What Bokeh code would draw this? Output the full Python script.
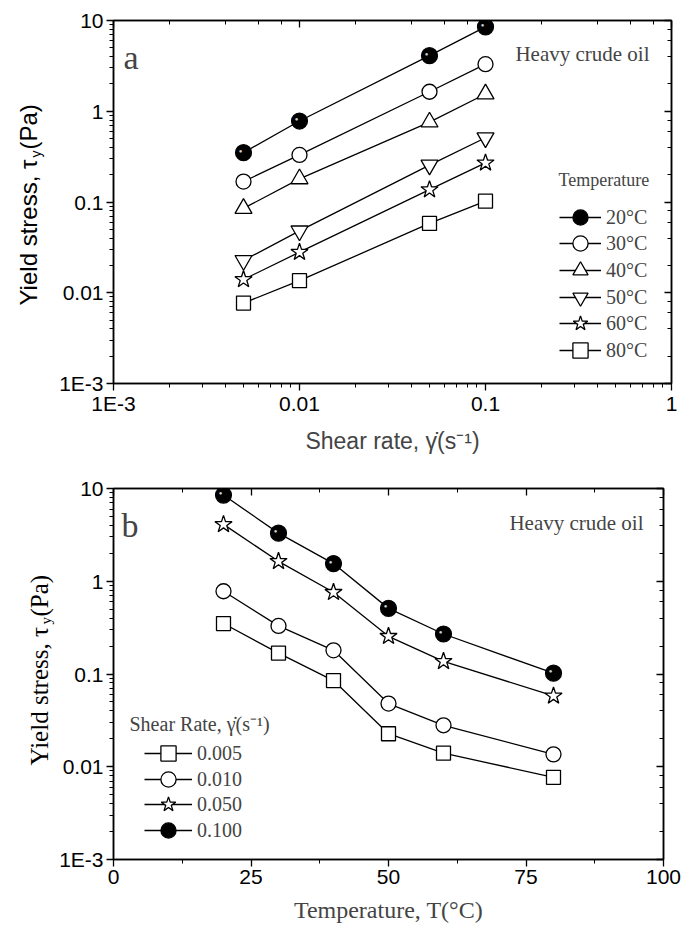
from math import pi
from bokeh.plotting import figure
from bokeh.models import (LogAxis, LinearAxis, Label, Legend, LegendItem,
                          CustomJSTickFormatter, LogTicker, SingleIntervalTicker, Range1d)
from bokeh.layouts import column, row
from bokeh.embed import file_html
from bokeh.resources import INLINE
from bokeh.core.properties import value

# ---------------- data ----------------
shear_rates = [0.005, 0.01, 0.05, 0.1]
temperatures = [20, 30, 40, 50, 60, 80]
stress_20C = [0.35, 0.78, 4.1, 8.5]
stress_30C = [0.168, 0.33, 1.64, 3.3]
stress_40C = [0.085, 0.18, 0.76, 1.55]
stress_50C = [0.0227, 0.048, 0.255, 0.51]
stress_60C = [0.014, 0.028, 0.137, 0.27]
stress_80C = [0.0077, 0.0136, 0.058, 0.102]
temp_labels = ["20°C", "30°C", "40°C", "50°C", "60°C", "80°C"]
shear_labels = ["0.005", "0.010", "0.050", "0.100"]
log_ticks_fmt = """
const e = Math.round(Math.log10(tick));
if (e <= -3) return "1E" + e;
if (e < 0) return Math.pow(10, e).toFixed(-e);
return Math.pow(10, e).toFixed(0);
"""

stress_by_temp = [stress_20C, stress_30C, stress_40C, stress_50C, stress_60C, stress_80C]
temp_markers = ["sphere", "circle", "triangle", "inverted_triangle", "star", "square"]
shear_markers = ["square", "circle", "star", "sphere"]
shear_index = [0, 1, 2, 3]

SANS = "Liberation Sans"
SERIF = "Liberation Serif"
MSIZE = {"sphere": 16, "circle": 15, "triangle": 17, "inverted_triangle": 17,
         "star": 18, "square": 14}
LABEL_W = 56


def style_axis(ax, inward=False, labels=True):
    ax.axis_line_color = "black"
    ax.axis_line_width = 1.5
    ax.major_tick_line_color = "black"
    ax.minor_tick_line_color = "black"
    ax.major_tick_line_width = 1.3
    ax.minor_tick_line_width = 1.0
    if inward:
        ax.major_tick_in, ax.major_tick_out = 7, 0
        ax.minor_tick_in, ax.minor_tick_out = 4, 0
    else:
        ax.major_tick_in, ax.major_tick_out = 0, 7
        ax.minor_tick_in, ax.minor_tick_out = 0, 4
    ax.major_label_text_font = SANS
    ax.major_label_text_font_size = "21px"
    ax.major_label_text_color = "black"
    ax.major_label_standoff = 3
    if not labels:
        ax.formatter = CustomJSTickFormatter(code="return '';")
        ax.major_label_standoff = 0
        ax.major_label_text_font_size = "1px"


def add_series(p, xs, ys, marker):
    r_line = p.line(xs, ys, line_color="black", line_width=1.3)
    if marker == "sphere":
        r_sc = p.scatter(xs, ys, marker="circle", size=MSIZE[marker],
                         fill_color="black", line_color="black", line_width=1.2)
        p.text(xs, ys, text=value("●"), x_offset=-3, y_offset=-2,
               text_font_size="6px", text_color="#d0d0d0",
               text_align="center", text_baseline="middle")
    else:
        r_sc = p.scatter(xs, ys, marker=marker, size=MSIZE[marker],
                         fill_color="white", line_color="black", line_width=1.3)
    return [r_line, r_sc]


def add_legend_rows(p, labels, renderer_sets, x, y_bottoms, glyph_w):
    for lab, rs, yb in zip(labels, renderer_sets, y_bottoms):
        lg = Legend(items=[LegendItem(label=lab, renderers=rs)], location=(x, yb),
                    label_text_font=SERIF, label_text_font_size="20px",
                    glyph_width=glyph_w, glyph_height=38, label_height=20,
                    label_standoff=5, padding=0, margin=0, spacing=0,
                    border_line_color=None, background_fill_alpha=0)
        p.add_layout(lg)


def label_figure(height, frame_bottom, x_center, y_start, font, size, w_main, w_sub, sub_shift):
    f = figure(width=LABEL_W, height=height, x_range=Range1d(0, 1), y_range=Range1d(0, 1),
               output_backend="svg", toolbar_location=None,
               x_axis_location=None, y_axis_location=None,
               min_border_left=0, min_border_right=0, min_border_top=0, min_border_bottom=0,
               border_fill_color="white", background_fill_color="white")
    f.grid.visible = False
    f.outline_line_color = None
    common = dict(x_units="screen", y_units="screen", angle=pi / 2,
                  text_align="left", text_baseline="middle", text_font=font,
                  text_color="black")
    yb = frame_bottom - y_start
    f.add_layout(Label(x=x_center, y=yb, text="Yield stress, τ", text_font_size=f"{size}px", **common))
    f.add_layout(Label(x=x_center + sub_shift, y=yb + w_main, text="y",
                       text_font_size=f"{int(size * 0.62)}px", **common))
    f.add_layout(Label(x=x_center, y=yb + w_main + w_sub, text="(Pa)",
                       text_font_size=f"{size}px", **common))
    return f


# ---------------- panel a ----------------
p1 = figure(frame_width=558, frame_height=363, x_axis_type="log", y_axis_type="log",
            x_range=Range1d(1e-3, 1), y_range=Range1d(1e-3, 10),
            output_backend="svg", toolbar_location=None,
            min_border_left=112 - LABEL_W, min_border_right=20, min_border_top=20,
            min_border_bottom=85,
            background_fill_color="white", border_fill_color="white")
p1.grid.visible = False
p1.outline_line_color = "black"
p1.outline_line_width = 1.5
for ax in p1.xaxis + p1.yaxis:
    style_axis(ax)
    ax.formatter = CustomJSTickFormatter(code=log_ticks_fmt)
p1.xaxis.major_label_standoff = 1
p1.xaxis.axis_label = "Shear rate, γ̇(s⁻¹)"
p1.xaxis.axis_label_text_font = SANS
p1.xaxis.axis_label_text_font_size = "23px"
p1.xaxis.axis_label_text_font_style = "normal"
p1.xaxis.axis_label_standoff = 10
top1 = LogAxis(ticker=LogTicker())
style_axis(top1, inward=True, labels=False)
p1.add_layout(top1, "above")
right1 = LogAxis(ticker=LogTicker())
style_axis(right1, inward=True, labels=False)
p1.add_layout(right1, "right")

sets1 = [add_series(p1, shear_rates, ys, mk) for ys, mk in zip(stress_by_temp, temp_markers)]
add_legend_rows(p1, temp_labels, sets1, 446, [383 - r - 19 for r in (217, 243, 270, 297, 323, 350)], 42)
p1.add_layout(Label(x=445, y=383 - 179, x_units="screen", y_units="screen", text="Temperature",
                    text_font=SERIF, text_font_size="18px", text_baseline="middle"))
p1.add_layout(Label(x=10, y=326, x_units="screen", y_units="screen", text="a",
                    text_font=SERIF, text_font_size="34px", text_baseline="alphabetic"))
p1.add_layout(Label(x=536, y=330, x_units="screen", y_units="screen", text="Heavy crude oil",
                    text_font=SERIF, text_font_size="21px", text_align="right",
                    text_baseline="alphabetic"))
lab1 = label_figure(468, 383 - 20, 28, 305 - 20, SANS, 24, 148, 8, 7)

# ---------------- panel b ----------------
p2 = figure(frame_width=550, frame_height=371, y_axis_type="log",
            x_range=Range1d(0, 100), y_range=Range1d(1e-3, 10),
            output_backend="svg", toolbar_location=None,
            min_border_left=112 - LABEL_W, min_border_right=28, min_border_top=20,
            min_border_bottom=70,
            background_fill_color="white", border_fill_color="white")
p2.grid.visible = False
p2.outline_line_color = "black"
p2.outline_line_width = 1.5
for ax in p2.xaxis + p2.yaxis:
    style_axis(ax)
p2.xaxis.ticker = SingleIntervalTicker(interval=25, num_minor_ticks=2)
p2.xaxis.major_label_standoff = 3
p2.yaxis.formatter = CustomJSTickFormatter(code=log_ticks_fmt)
p2.xaxis.axis_label = "Temperature, T(°C)"
p2.xaxis.axis_label_text_font = SERIF
p2.xaxis.axis_label_text_font_size = "24px"
p2.xaxis.axis_label_text_font_style = "normal"
p2.xaxis.axis_label_standoff = 10
top2 = LinearAxis(ticker=SingleIntervalTicker(interval=25, num_minor_ticks=2))
style_axis(top2, inward=True, labels=False)
p2.add_layout(top2, "above")
right2 = LogAxis(ticker=LogTicker())
style_axis(right2, inward=True, labels=False)
p2.add_layout(right2, "right")

sets2 = []
for j, mk in zip(shear_index, shear_markers):
    ys = [s[j] for s in stress_by_temp]
    sets2.append(add_series(p2, temperatures, ys, mk))
add_legend_rows(p2, shear_labels, sets2, 31, [859 - r - 19 for r in (753, 779, 804, 830)], 48)
p2.add_layout(Label(x=16, y=859 - 723, x_units="screen", y_units="screen", text="Shear Rate, γ̇(s⁻¹)",
                    text_font=SERIF, text_font_size="20px", text_baseline="middle"))
p2.add_layout(Label(x=8, y=334, x_units="screen", y_units="screen", text="b",
                    text_font=SERIF, text_font_size="34px", text_baseline="alphabetic"))
p2.add_layout(Label(x=530, y=337, x_units="screen", y_units="screen", text="Heavy crude oil",
                    text_font=SERIF, text_font_size="21px", text_align="right",
                    text_baseline="alphabetic"))
lab2 = label_figure(461, 859 - 488, 39, 765 - 488, SERIF, 25, 141, 8, 6)

layout = column(row(lab1, p1, spacing=0), row(lab2, p2, spacing=0), spacing=0)
open("out.html", "w").write(file_html(layout, INLINE))
